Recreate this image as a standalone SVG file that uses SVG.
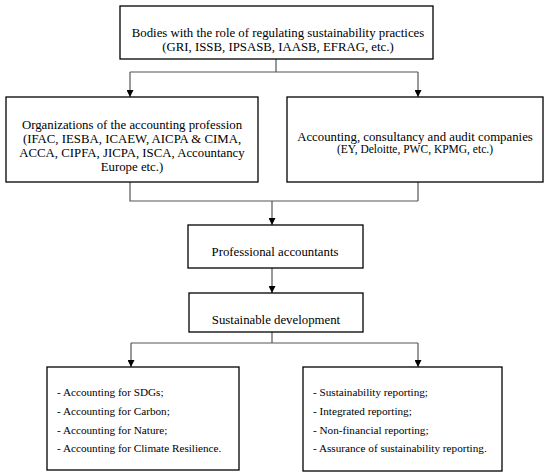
<svg xmlns="http://www.w3.org/2000/svg" width="550" height="475" viewBox="0 0 550 475">
<defs>
<style>
.box{fill:#fff;stroke:#000;stroke-width:1.3}
.t{font-family:"Liberation Serif","DejaVu Serif",serif;font-size:12.8px;fill:#000;text-anchor:middle}
.s{font-size:11.5px}
.l{font-family:"Liberation Serif","DejaVu Serif",serif;font-size:11.2px;fill:#000}
.c{fill:none;stroke:#555;stroke-width:1.2}
</style>
<marker id="ah" viewBox="0 0 10 10" refX="10" refY="5" markerWidth="7" markerHeight="7" markerUnits="userSpaceOnUse" orient="auto">
<path d="M0,0 L10,5 L0,10 Z" fill="#000"/>
</marker>
</defs>
<rect width="550" height="475" fill="#fff"/>
<g id="connectors">
<path class="c" d="M276,59 V72 M130,72 H418"/>
<path class="c" d="M130,72 V97" marker-end="url(#ah)"/>
<path class="c" d="M418,72 V97" marker-end="url(#ah)"/>
<path class="c" d="M130,182 V201 H418 M418,182 V201"/>
<path class="c" d="M272,201 V225" marker-end="url(#ah)"/>
<path class="c" d="M272,268 V293" marker-end="url(#ah)"/>
<path class="c" d="M272,332 V343 M131,343 H418"/>
<path class="c" d="M131,343 V367" marker-end="url(#ah)"/>
<path class="c" d="M418,343 V367" marker-end="url(#ah)"/>
</g>
<g id="regulators">
<rect class="box" x="120" y="6" width="313" height="53"/>
<text class="t" x="278" y="37">Bodies with the role of regulating sustainability practices</text>
<text class="t" x="278" y="51">(GRI, ISSB, IPSASB, IAASB, EFRAG, etc.)</text>
</g>
<g id="organizations">
<rect class="box" x="6" y="97" width="252" height="85"/>
<text class="t" x="132" y="129">Organizations of the accounting profession</text>
<text class="t" x="132" y="143">(IFAC, IESBA, ICAEW, AICPA &amp; CIMA,</text>
<text class="t" x="132" y="157">ACCA, CIPFA, JICPA, ISCA, Accountancy</text>
<text class="t" x="132" y="171">Europe etc.)</text>
</g>
<g id="companies">
<rect class="box" x="287" y="97" width="256" height="85"/>
<text class="t" x="415" y="141">Accounting, consultancy and audit companies</text>
<text class="t s" x="415" y="153">(EY, Deloitte, PWC, KPMG, etc.)</text>
</g>
<g id="accountants">
<rect class="box" x="188" y="225" width="175" height="43"/>
<text class="t" x="275" y="256">Professional accountants</text>
</g>
<g id="sustainable">
<rect class="box" x="189" y="293" width="174" height="39"/>
<text class="t" x="276" y="324">Sustainable development</text>
</g>
<g id="accounting-for">
<rect class="box" x="47" y="367" width="192" height="103"/>
<text class="l" x="57" y="396">- Accounting for SDGs;</text>
<text class="l" x="57" y="415">- Accounting for Carbon;</text>
<text class="l" x="57" y="434">- Accounting for Nature;</text>
<text class="l" x="57" y="452">- Accounting for Climate Resilience.</text>
</g>
<g id="reporting">
<rect class="box" x="303" y="367" width="199" height="104"/>
<text class="l" x="313" y="396">- Sustainability reporting;</text>
<text class="l" x="313" y="415">- Integrated reporting;</text>
<text class="l" x="313" y="434">- Non-financial reporting;</text>
<text class="l" x="313" y="452">- Assurance of sustainability reporting.</text>
</g>
</svg>
